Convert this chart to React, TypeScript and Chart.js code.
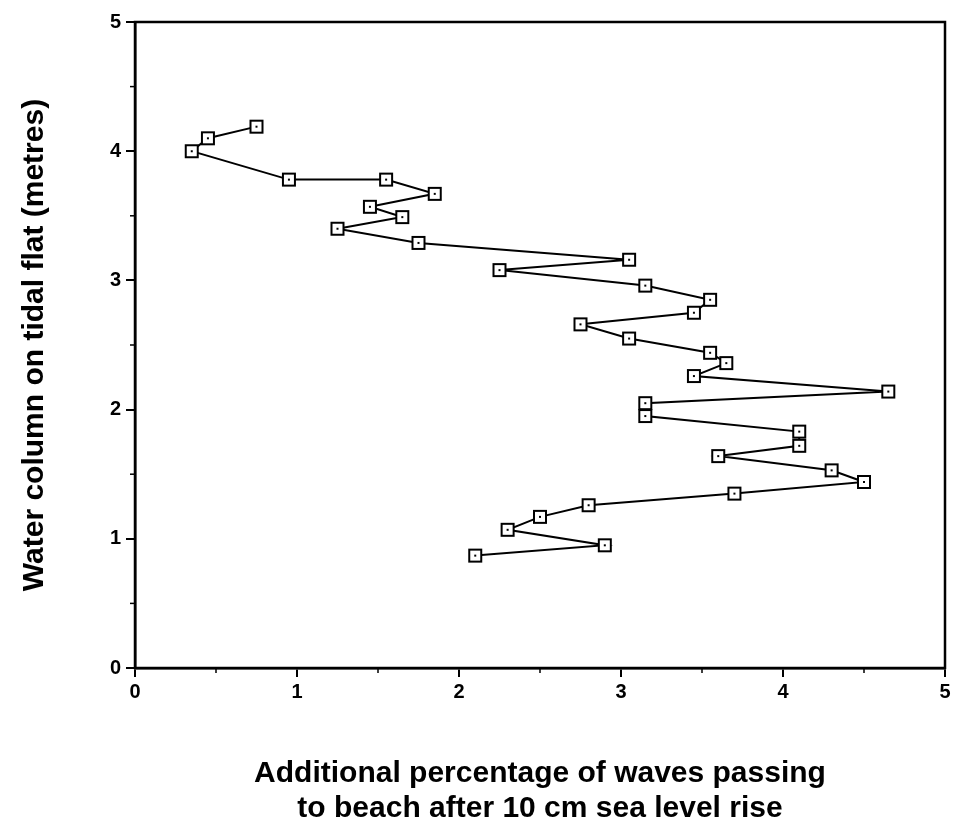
import React, { useEffect, useRef } from "react";
import { Chart, registerables } from "chart.js";

Chart.register(...registerables);

const xValues = [0.75, 0.45, 0.35, 0.95, 1.55, 1.85, 1.45, 1.65, 1.25, 1.75, 3.05, 2.25, 3.15, 3.55, 3.45, 2.75, 3.05, 3.55, 3.65, 3.45, 4.65, 3.15, 3.15, 4.1, 4.1, 3.6, 4.3, 4.5, 3.7, 2.8, 2.5, 2.3, 2.9, 2.1];
const yValues = [4.19, 4.1, 4.0, 3.78, 3.78, 3.67, 3.57, 3.49, 3.4, 3.29, 3.16, 3.08, 2.96, 2.85, 2.75, 2.66, 2.55, 2.44, 2.36, 2.26, 2.14, 2.05, 1.95, 1.83, 1.72, 1.64, 1.53, 1.44, 1.35, 1.26, 1.17, 1.07, 0.95, 0.87];
const xTicks = [0, 1, 2, 3, 4, 5];
const yTicks = [0, 1, 2, 3, 4, 5];
const xTitle = ["Additional percentage of waves passing", "to beach after 10 cm sea level rise"];
const yTitle = "Water column on tidal flat (metres)";

const FONT = "'Liberation Sans', Arial, Helvetica, sans-serif";

function makeMarker(): HTMLCanvasElement {
  const c = document.createElement("canvas");
  c.width = 16;
  c.height = 16;
  const g = c.getContext("2d")!;
  g.fillStyle = "#fff";
  g.fillRect(1, 1, 14, 14);
  g.strokeStyle = "#000";
  g.lineWidth = 2;
  g.strokeRect(2, 2, 12, 12);
  g.fillStyle = "#000";
  g.fillRect(7, 7, 2, 2);
  return c;
}

const framePlugin = {
  id: "frame",
  afterDraw(chart: any) {
    const { ctx, chartArea } = chart;
    const xs = chart.scales.x;
    const ys = chart.scales.y;
    ctx.save();
    ctx.strokeStyle = "#000";
    ctx.lineWidth = 2.5;
    ctx.strokeRect(chartArea.left, chartArea.top, chartArea.right - chartArea.left, chartArea.bottom - chartArea.top);
    ctx.lineWidth = 1.5;
    for (let i = 0; i < xTicks.length - 1; i++) {
      const px = xs.getPixelForValue((xTicks[i] + xTicks[i + 1]) / 2);
      ctx.beginPath();
      ctx.moveTo(px, chartArea.bottom);
      ctx.lineTo(px, chartArea.bottom + 5);
      ctx.stroke();
    }
    for (let i = 0; i < yTicks.length - 1; i++) {
      const py = ys.getPixelForValue((yTicks[i] + yTicks[i + 1]) / 2);
      ctx.beginPath();
      ctx.moveTo(chartArea.left, py);
      ctx.lineTo(chartArea.left - 5, py);
      ctx.stroke();
    }
    ctx.restore();
  },
};

export default function App() {
  const ref = useRef<HTMLCanvasElement | null>(null);
  useEffect(() => {
    document.body.style.margin = "0";
    const canvas = ref.current;
    if (!canvas) return;
    const data = xValues.map((x, i) => ({ x, y: yValues[i] }));
    const marker = makeMarker();
    const chart = new Chart(canvas, {
      type: "scatter",
      data: {
        datasets: [
          {
            data,
            showLine: true,
            borderColor: "#000",
            borderWidth: 2,
            pointStyle: marker as any,
            pointRadius: 8,
          },
        ],
      },
      options: {
        animation: false,
        responsive: false,
        devicePixelRatio: 1,
        layout: { padding: { top: 22, right: 11, left: 0, bottom: 0 } },
        plugins: { legend: { display: false }, tooltip: { enabled: false } },
        scales: {
          x: {
            type: "linear",
            min: 0,
            max: 5,
            afterFit: (s: any) => {
              s.height = 163;
            },
            afterBuildTicks: (s: any) => {
              s.ticks = xTicks.map((v) => ({ value: v }));
            },
            ticks: {
              color: "#000",
              font: { family: FONT, size: 20, weight: "bold" },
              padding: 3,
              maxRotation: 0,
            },
            grid: { display: true, drawOnChartArea: false, drawTicks: true, tickLength: 9, color: "#000", lineWidth: 2 },
            border: { display: true, color: "#000", width: 2.5 },
            title: {
              display: true,
              text: xTitle,
              color: "#000",
              font: { family: FONT, size: 30, weight: "bold", lineHeight: 1.17 },
              padding: { top: 0, bottom: 5 },
            },
          },
          y: {
            type: "linear",
            min: 0,
            max: 5,
            afterFit: (s: any) => {
              s.width = 135;
            },
            afterBuildTicks: (s: any) => {
              s.ticks = yTicks.map((v) => ({ value: v }));
            },
            ticks: {
              color: "#000",
              font: { family: FONT, size: 20, weight: "bold" },
              padding: 5,
            },
            grid: { display: true, drawOnChartArea: false, drawTicks: true, tickLength: 9, color: "#000", lineWidth: 2 },
            border: { display: true, color: "#000", width: 2.5 },
            title: {
              display: true,
              text: yTitle,
              color: "#000",
              font: { family: FONT, size: 30, weight: "bold", lineHeight: 1.2 },
              padding: { top: 17, bottom: 0 },
            },
          },
        },
      },
      plugins: [framePlugin],
    });
    return () => chart.destroy();
  }, []);
  return <canvas ref={ref} width={956} height={831} style={{ display: "block" }} />;
}
